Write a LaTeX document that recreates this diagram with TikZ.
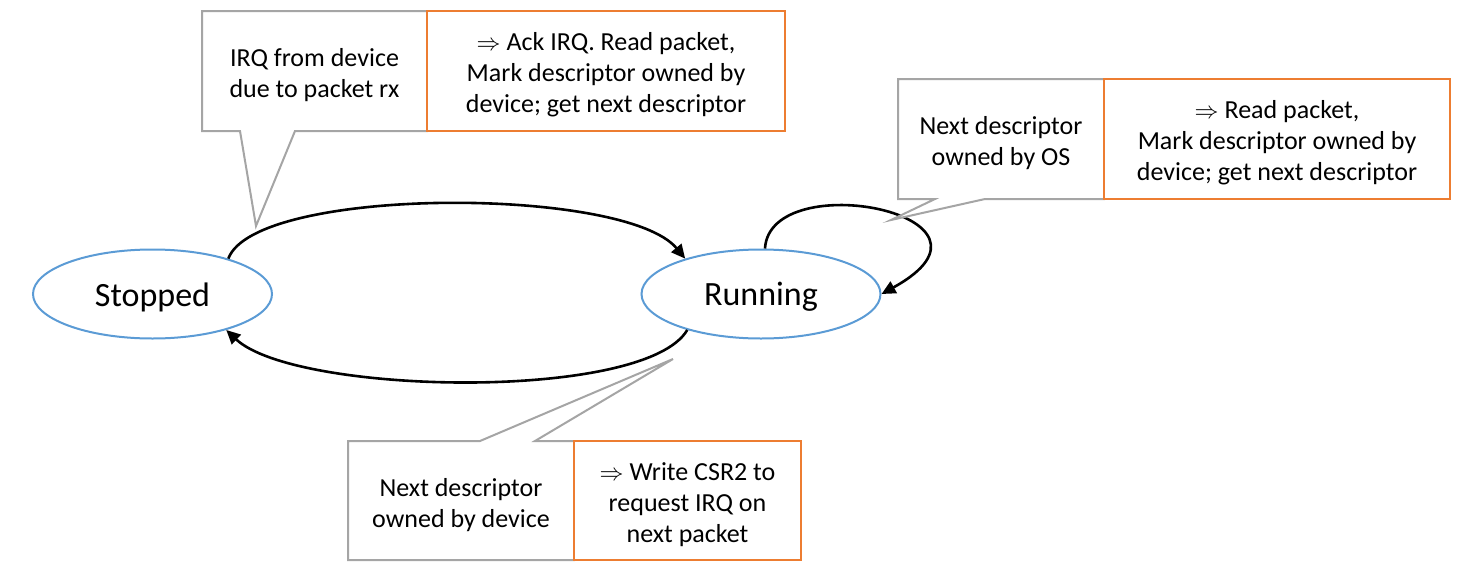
\documentclass[tikz,border=0pt]{standalone}
\usepackage{fontspec}
\setmainfont{Carlito}
\usetikzlibrary{shapes.geometric,arrows.meta}
\definecolor{cgray}{HTML}{A5A5A5}
\definecolor{corange}{HTML}{ED7D31}
\definecolor{cblue}{HTML}{5B9BD5}
\begin{document}
\begin{tikzpicture}[x=0.5pt,y=-0.5pt,
  state/.style={ellipse, draw=cblue, line width=1pt, minimum width=119.5pt, minimum height=44.5pt, inner sep=0pt},
  statetext/.style={inner sep=0pt, font=\fontsize{17}{20}\selectfont},
  lbl/.style={align=center, inner sep=0pt, font=\fontsize{13}{15.6}\selectfont},
  acttext/.style={align=center, inner sep=0pt, font=\fontsize{13}{15.6}\selectfont},
  actbox/.style={draw=corange, line width=1pt, fill=white, inner sep=0pt},
  callout/.style={draw=cgray, line width=1pt, fill=white, line join=miter},
  trans/.style={line width=1.3pt, -{Triangle[length=7pt,width=6.5pt]}}
]
\useasboundingbox (0,0) rectangle (1462,573);

% states
\node[state] (stopped) at (152.5,294) {};
\node[statetext] (stoppedtext) at (152.5,297) {Stopped};
\node[state] (running) at (761,294) {};
\node[statetext] (runningtext) at (761,297) {Running};

% transitions
\draw[trans] (stopped.25) .. controls (255,186) and (625,186) .. (running.155);
\draw[trans] (running.206) .. controls (645,402) and (295,395) .. (stopped.-26);
\draw[trans] (running.85) .. controls (770,165) and (1025,215) .. (running.east);

% callout 1 (Stopped -> Running)
\draw[callout] (202,11) -- (427,11) -- (427,131) -- (295,131) -- (256,226) -- (240,131) -- (202,131) -- cycle;
\node[lbl] (c1) at (314.5,75) {IRQ from device\\due to packet rx};
\node[actbox, minimum width=179pt, minimum height=60pt] (a1) at (606,71) {};
\node[acttext] (a1text) at (606,75) {$\Rightarrow$ Ack IRQ. Read packet,\\Mark descriptor owned by\\device; get next descriptor};

% callout 2 (Running self loop)
\draw[callout] (898,79) -- (1104,79) -- (1104,199) -- (985,199) -- (891,220) -- (935,199) -- (898,199) -- cycle;
\node[lbl] (c2) at (1001,143) {Next descriptor\\owned by OS};
\node[actbox, minimum width=173pt, minimum height=60pt] (a2) at (1277,139) {};
\node[acttext] (a2text) at (1277,143) {$\Rightarrow$ Read packet,\\Mark descriptor owned by\\device; get next descriptor};

% callout 3 (Running -> Stopped)
\draw[callout] (348,560) -- (348,441) -- (480,441) -- (673,359) -- (535,441) -- (574,441) -- (574,560) -- cycle;
\node[lbl] (c3) at (461,505) {Next descriptor\\owned by device};
\node[actbox, minimum width=113.5pt, minimum height=59.5pt] (a3) at (687.5,500.5) {};
\node[acttext] (a3text) at (687.5,504.5) {$\Rightarrow$ Write CSR2 to\\request IRQ on\\next packet};
\end{tikzpicture}
\end{document}
